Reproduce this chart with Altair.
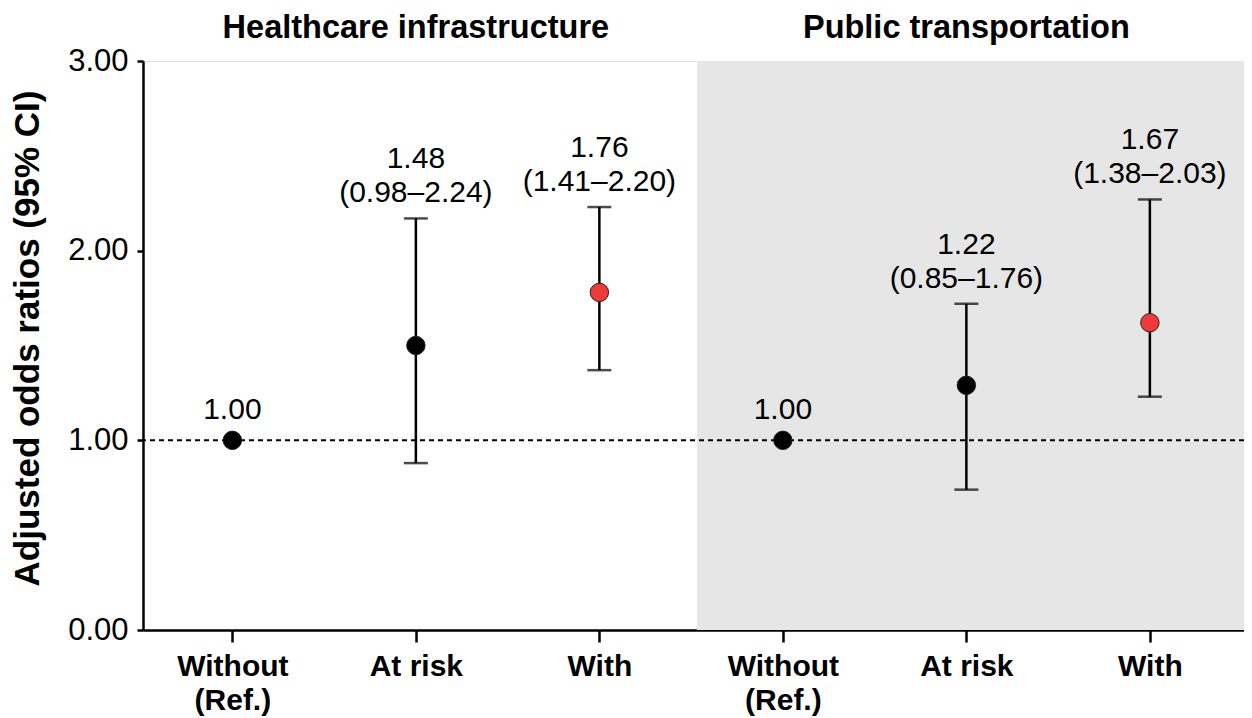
import altair as alt
import pandas as pd

# ---- data ----
panels = ["Healthcare infrastructure", "Public transportation"]
panel_center = [1, 4]
categories = ["Without\n(Ref.)", "At risk", "With"]
positions = [0, 1, 2, 3, 4, 5]
odds = [1.00, 1.50, 1.78, 1.00, 1.29, 1.62]
ci_lo = [None, 0.88, 1.37, None, 0.74, 1.23]
ci_hi = [None, 2.17, 2.23, None, 1.72, 2.27]
label_or = ["1.00", "1.48", "1.76", "1.00", "1.22", "1.67"]
label_ci = [None, "(0.98–2.24)", "(1.41–2.20)", None, "(0.85–1.76)", "(1.38–2.03)"]
highlight = ["no", "no", "yes", "no", "no", "yes"]

X_MIN, X_MAX = -0.487, 5.513
SHADE_START = 2.532

FONT = "Liberation Sans, Arial, Helvetica, sans-serif"

labels = [a if b is None else f"{a}\n{b}" for a, b in zip(label_or, label_ci)]
df = pd.DataFrame({
    "pos": positions,
    "odds": odds,
    "lo": ci_lo,
    "hi": ci_hi,
    "label": labels,
    "hl": highlight,
})
df_ci = df.dropna(subset=["lo"])
df_ref = df[df["lo"].isna()]

titles = pd.DataFrame({"panel": panels, "pos": panel_center})
shade = pd.DataFrame({"x0": [SHADE_START], "x1": [X_MAX], "y0": [0.0], "y1": [3.0]})

# axis label expression built from the categories
def lab(c):
    parts = c.split("\n")
    if len(parts) == 1:
        return "'" + parts[0] + "'"
    return "[" + ",".join("'" + p + "'" for p in parts) + "]"

n = len(categories)
label_expr = " : ".join(
    [f"(datum.value % {n} == {i}) ? {lab(c)}" for i, c in enumerate(categories[:-1])]
) + " : " + lab(categories[-1])

xscale = alt.Scale(domain=[X_MIN, X_MAX], nice=False, zero=False)
yscale = alt.Scale(domain=[0, 3], nice=False, zero=True)

x_axis = alt.Axis(
    values=positions, labelExpr=label_expr, title=None, grid=False,
    labelFontSize=30, labelFontWeight="bold", labelFont=FONT, labelColor="black",
    labelLineHeight=34, tickSize=12, tickWidth=2.5, tickColor="black",
    domainColor="black", domainWidth=2.5, labelPadding=9, labelBaseline="top",
    labelAngle=0,
)
y_axis = alt.Axis(
    values=[0, 1, 2, 3], format=".2f", grid=False,
    title="Adjusted odds ratios (95% CI)", titleFontSize=35, titleFontWeight="bold",
    titleFont=FONT, titleColor="black", titleX=-98, titleY=277,
    labelFontSize=31, labelFont=FONT, labelColor="black", labelPadding=9,
    tickSize=6, tickWidth=2.5, tickColor="black", domainColor="black", domainWidth=2.5,
)

bg = alt.Chart(shade).mark_rect(color="#e6e6e6").encode(
    x=alt.X("x0:Q", scale=xscale, axis=x_axis),
    x2="x1:Q",
    y=alt.Y("y0:Q", scale=yscale, axis=y_axis),
    y2="y1:Q",
)

ref_line = alt.Chart(shade).mark_rule(color="black", strokeWidth=2, strokeDash=[5, 4]).encode(
    y=alt.datum(1.0),
)

bars = alt.Chart(df_ci).mark_rule(color="black", strokeWidth=2.5).encode(
    x=alt.X("pos:Q"), y=alt.Y("lo:Q"), y2="hi:Q",
)
cap_lo = alt.Chart(df_ci).mark_tick(color="black", orient="horizontal", size=24, thickness=2.5).encode(
    x=alt.X("pos:Q"), y=alt.Y("lo:Q"),
)
cap_hi = alt.Chart(df_ci).mark_tick(color="black", orient="horizontal", size=24, thickness=2.5).encode(
    x=alt.X("pos:Q"), y=alt.Y("hi:Q"),
)

points = alt.Chart(df).mark_circle(size=340, opacity=1, stroke="#222222", strokeWidth=1).encode(
    x=alt.X("pos:Q"), y=alt.Y("odds:Q"),
    color=alt.Color("hl:N", scale=alt.Scale(domain=["no", "yes"], range=["black", "#f03a3a"]), legend=None),
)

text_ci = alt.Chart(df_ci).mark_text(
    font=FONT, fontSize=30, lineBreak="\n", lineHeight=34, baseline="bottom", dy=-44, color="black"
).encode(x=alt.X("pos:Q"), y=alt.Y("hi:Q"), text="label:N")

text_ref = alt.Chart(df_ref).mark_text(
    font=FONT, fontSize=30, baseline="bottom", dy=-15, color="black"
).encode(x=alt.X("pos:Q"), y=alt.Y("odds:Q"), text="label:N")

panel_titles = alt.Chart(titles).mark_text(
    font=FONT, fontSize=32.5, fontWeight="bold", baseline="alphabetic", color="black"
).encode(x=alt.X("pos:Q"), y=alt.value(-23), text="panel:N")

chart = alt.layer(
    bg, ref_line, bars, cap_lo, cap_hi, points, text_ci, text_ref, panel_titles
).properties(
    width=1101, height=569,
    padding={"left": 135, "top": 53, "right": 0, "bottom": 88},
    autosize=alt.AutoSizeParams(type="none"),
).configure_view(stroke=None).configure(background="white")

chart.save("out.html", embed_options={"renderer": "svg", "actions": False})
